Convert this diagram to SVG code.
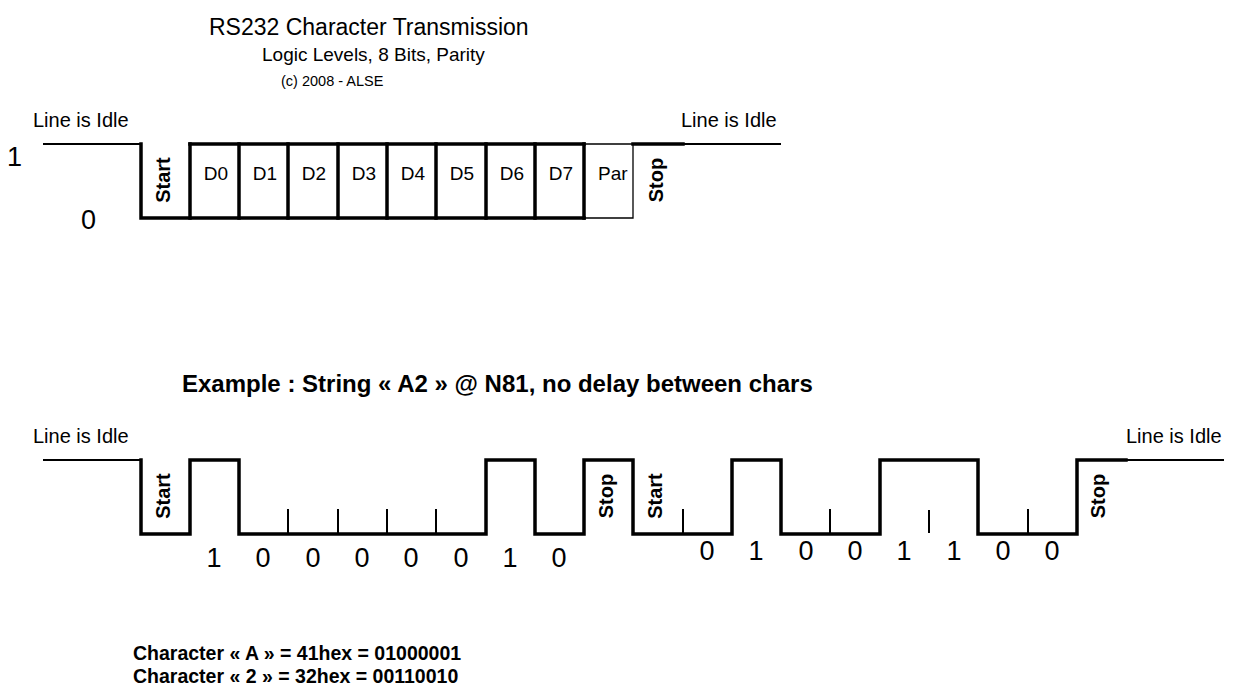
<svg xmlns="http://www.w3.org/2000/svg" width="1250" height="696" viewBox="0 0 1250 696">
<style>
text{font-family:"Liberation Sans",Arial,sans-serif;fill:#000}
.t1{font-size:23px}
.t2{font-size:19px}
.t3{font-size:14.5px}
.idle{font-size:20px}
.lvl{font-size:27px}
.bit{font-size:19px}
.rot{font-size:20px;font-weight:bold}
.dig{font-size:27px}
.b{font-weight:bold}
.thick{fill:none;stroke:#000;stroke-width:3.5;stroke-linejoin:miter;stroke-linecap:square}
.thin{fill:none;stroke:#000;stroke-width:2}
.hair{fill:none;stroke:#000;stroke-width:1.3}
</style>
<rect width="1250" height="696" fill="#fff"/>
<g id="title">
<text class="t1" x="209" y="35">RS232 Character Transmission</text>
<text class="t2" x="262" y="61">Logic Levels, 8 Bits, Parity</text>
<text class="t3" x="281" y="86">(c) 2008 - ALSE</text>
</g>
<g id="frame-top">
<text class="idle" x="33" y="127">Line is Idle</text>
<text class="idle" x="681" y="127">Line is Idle</text>
<text class="lvl" x="7" y="166">1</text>
<text class="lvl" x="81" y="229">0</text>
</g>
<g id="connectors">
<g id="top-signal">
<line class="thin" x1="43" y1="144" x2="140" y2="144"/>
<polyline class="thick" points="141,144 141,218 584,218"/>
<line class="thick" x1="190" y1="144" x2="584" y2="144"/>
<line class="thick" x1="190" y1="144" x2="190" y2="218"/>
<line class="thick" x1="239" y1="144" x2="239" y2="218"/>
<line class="thick" x1="288" y1="144" x2="288" y2="218"/>
<line class="thick" x1="338" y1="144" x2="338" y2="218"/>
<line class="thick" x1="387" y1="144" x2="387" y2="218"/>
<line class="thick" x1="436" y1="144" x2="436" y2="218"/>
<line class="thick" x1="486" y1="144" x2="486" y2="218"/>
<line class="thick" x1="535" y1="144" x2="535" y2="218"/>
<line class="thick" x1="584" y1="144" x2="584" y2="218"/>
<polyline class="hair" points="584,144 633,144 633,218 584,218"/>
<line class="thick" x1="633" y1="144" x2="683" y2="144"/>
<line class="thin" x1="683" y1="144" x2="781" y2="144"/>
</g>
<g id="bottom-signal">
<line class="thin" x1="43" y1="460" x2="140" y2="460"/>
<polyline class="thick" points="141,460 141,534 190,534 190,460 239,460 239,534 486,534 486,460 535,460 535,534 584,534 584,460 633,460 633,534 732,534 732,460 781,460 781,534 880,534 880,460 978,460 978,534 1077,534 1077,460 1126,460"/>
<line class="thin" x1="1126" y1="460" x2="1224" y2="460"/>
<line class="thin" x1="288" y1="509" x2="288" y2="534"/>
<line class="thin" x1="338" y1="509" x2="338" y2="534"/>
<line class="thin" x1="387" y1="509" x2="387" y2="534"/>
<line class="thin" x1="436" y1="509" x2="436" y2="534"/>
<line class="thin" x1="683" y1="509" x2="683" y2="534"/>
<line class="thin" x1="830" y1="509" x2="830" y2="534"/>
<line class="thin" x1="929" y1="510" x2="929" y2="533"/>
<line class="thin" x1="1028" y1="509" x2="1028" y2="534"/>
</g>
</g>
<g id="start-top"><text class="rot" text-anchor="middle" transform="translate(170,180) rotate(-90)">Start</text></g>
<g id="d0"><text class="bit" text-anchor="middle" x="216" y="180">D0</text></g>
<g id="d1"><text class="bit" text-anchor="middle" x="265" y="180">D1</text></g>
<g id="d2"><text class="bit" text-anchor="middle" x="314" y="180">D2</text></g>
<g id="d3"><text class="bit" text-anchor="middle" x="364" y="180">D3</text></g>
<g id="d4"><text class="bit" text-anchor="middle" x="413" y="180">D4</text></g>
<g id="d5"><text class="bit" text-anchor="middle" x="462" y="180">D5</text></g>
<g id="d6"><text class="bit" text-anchor="middle" x="512" y="180">D6</text></g>
<g id="d7"><text class="bit" text-anchor="middle" x="561" y="180">D7</text></g>
<g id="par"><text class="bit" x="598" y="180">Par</text></g>
<g id="stop-top"><text class="rot" text-anchor="middle" transform="translate(663,180) rotate(-90)">Stop</text></g>
<g id="example">
<text class="b" font-size="24" x="182" y="392">Example : String « A2 » @ N81, no delay between chars</text>
</g>
<g id="frame-bottom">
<text class="idle" x="33" y="443">Line is Idle</text>
<text class="idle" x="1126" y="443">Line is Idle</text>
<text class="rot" text-anchor="middle" transform="translate(170,496) rotate(-90)">Start</text>
<text class="rot" text-anchor="middle" transform="translate(613,496) rotate(-90)">Stop</text>
<text class="rot" text-anchor="middle" transform="translate(662,496) rotate(-90)">Start</text>
<text class="rot" text-anchor="middle" transform="translate(1105,496) rotate(-90)">Stop</text>
</g>
<g id="bits-a" text-anchor="middle">
<text class="dig" x="214" y="567">1</text>
<text class="dig" x="263" y="567">0</text>
<text class="dig" x="313" y="567">0</text>
<text class="dig" x="362" y="567">0</text>
<text class="dig" x="411" y="567">0</text>
<text class="dig" x="461" y="567">0</text>
<text class="dig" x="510" y="567">1</text>
<text class="dig" x="559" y="567">0</text>
</g>
<g id="bits-2" text-anchor="middle">
<text class="dig" x="707" y="560">0</text>
<text class="dig" x="756" y="560">1</text>
<text class="dig" x="806" y="560">0</text>
<text class="dig" x="855" y="560">0</text>
<text class="dig" x="904" y="560">1</text>
<text class="dig" x="954" y="560">1</text>
<text class="dig" x="1003" y="560">0</text>
<text class="dig" x="1052" y="560">0</text>
</g>
<g id="legend">
<text class="b" font-size="19.5" x="133" y="660">Character « A » = 41hex = 01000001</text>
<text class="b" font-size="19.5" x="133" y="683">Character « 2 » = 32hex = 00110010</text>
</g>
</svg>
